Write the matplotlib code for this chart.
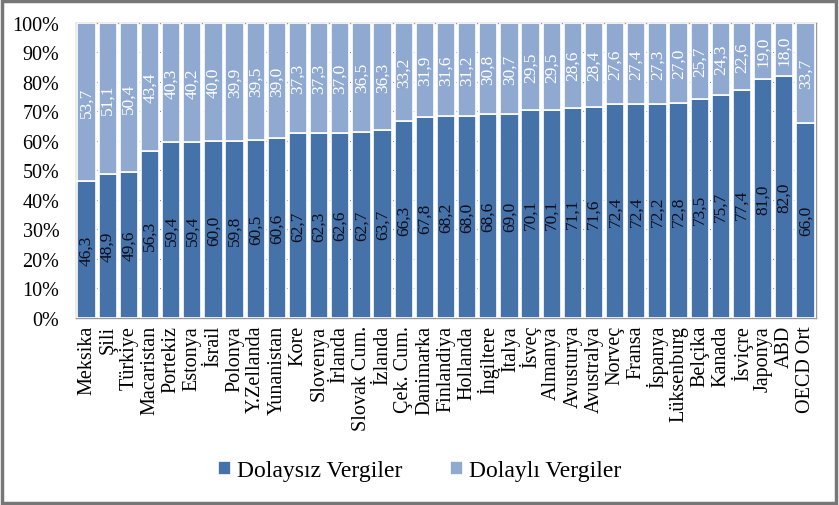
import numpy as np
import matplotlib
matplotlib.use("Agg")
import matplotlib.pyplot as plt
from matplotlib.patches import Rectangle

SERIF = ["Liberation Serif", "DejaVu Serif"]
plt.rcParams["font.family"] = SERIF

countries = ["Meksika", "Şili", "Türkiye", "Macaristan", "Portekiz", "Estonya",
             "İsrail", "Polonya", "Y.Zellanda", "Yunanistan", "Kore", "Slovenya",
             "İrlanda", "Slovak Cum.", "İzlanda", "Çek. Cum.", "Danimarka",
             "Finlandiya", "Hollanda", "İngiltere", "İtalya", "İsveç", "Almanya",
             "Avusturya", "Avustralya", "Norveç", "Fransa", "İspanya",
             "Lüksenburg", "Belçika", "Kanada", "İsviçre", "Japonya", "ABD",
             "OECD Ort"]
dolaysiz = [46.3, 48.9, 49.6, 56.3, 59.4, 59.4, 60.0, 59.8, 60.5, 60.6, 62.7,
            62.3, 62.6, 62.7, 63.7, 66.3, 67.8, 68.2, 68.0, 68.6, 69.0, 70.1,
            70.1, 71.1, 71.6, 72.4, 72.4, 72.2, 72.8, 73.5, 75.7, 77.4, 81.0,
            82.0, 66.0]
dolayli = [53.7, 51.1, 50.4, 43.4, 40.3, 40.2, 40.0, 39.9, 39.5, 39.0, 37.3,
           37.3, 37.0, 36.5, 36.3, 33.2, 31.9, 31.6, 31.2, 30.8, 30.7, 29.5,
           29.5, 28.6, 28.4, 27.6, 27.4, 27.3, 27.0, 25.7, 24.3, 22.6, 19.0,
           18.0, 33.7]
yticks = [0, 10, 20, 30, 40, 50, 60, 70, 80, 90, 100]

dark = "#4572A9"
light = "#8FA9D1"

d = np.array(dolaysiz)
i = np.array(dolayli)
tot = d + i
dp = d / tot * 100
ip = i / tot * 100
x = np.arange(len(countries))

fig = plt.figure(figsize=(8.39, 5.06), dpi=100)
ax = fig.add_axes([0.0906, 0.3696, 0.882, 0.583])

ax.bar(x, dp, width=0.86, color=dark, edgecolor="white", linewidth=1.2, zorder=3,
       label="Dolaysız Vergiler")
ax.bar(x, ip, bottom=dp, width=0.86, color=light, edgecolor="white", linewidth=1.2,
       zorder=3, label="Dolaylı Vergiler")

for k in range(len(x)):
    ax.text(x[k], dp[k] / 2, f"{d[k]:.1f}".replace(".", ","), rotation=90,
            ha="center", va="center", fontsize=12.5, color="#0d0d1a", zorder=4)
    ax.text(x[k], dp[k] + ip[k] / 2, f"{i[k]:.1f}".replace(".", ","), rotation=90,
            ha="center", va="center", fontsize=12.5, color="white", zorder=4)

ax.set_xlim(-0.5, len(x) - 0.5)
ax.set_ylim(0, 100)
ax.set_yticks(yticks)
ax.set_yticklabels([f"{v}%" for v in yticks], fontsize=14.5)
ax.set_xticks(x)
ax.set_xticklabels(countries, rotation=90, fontsize=14.5)
ax.tick_params(axis="y", length=0, pad=12)
ax.tick_params(axis="x", length=0, pad=5)
ax.yaxis.grid(True, color="#888888", linestyle=(0, (1, 2)), linewidth=0.8, zorder=0)
for s in ax.spines.values():
    s.set_color("#999999")
    s.set_linewidth(1)

ax.legend(loc="center", bbox_to_anchor=(0.5, 0.068), bbox_transform=fig.transFigure,
          ncol=2, frameon=False, prop={"family": "Liberation Serif", "size": 17},
          handlelength=0.55, handleheight=0.55, handletextpad=0.25,
          columnspacing=2.0)

fig.patches.append(Rectangle((0.002, 0.004), 0.995, 0.993, transform=fig.transFigure,
                             fill=False, edgecolor="#777777", linewidth=2.5))

fig.savefig("out.png", dpi=100)
